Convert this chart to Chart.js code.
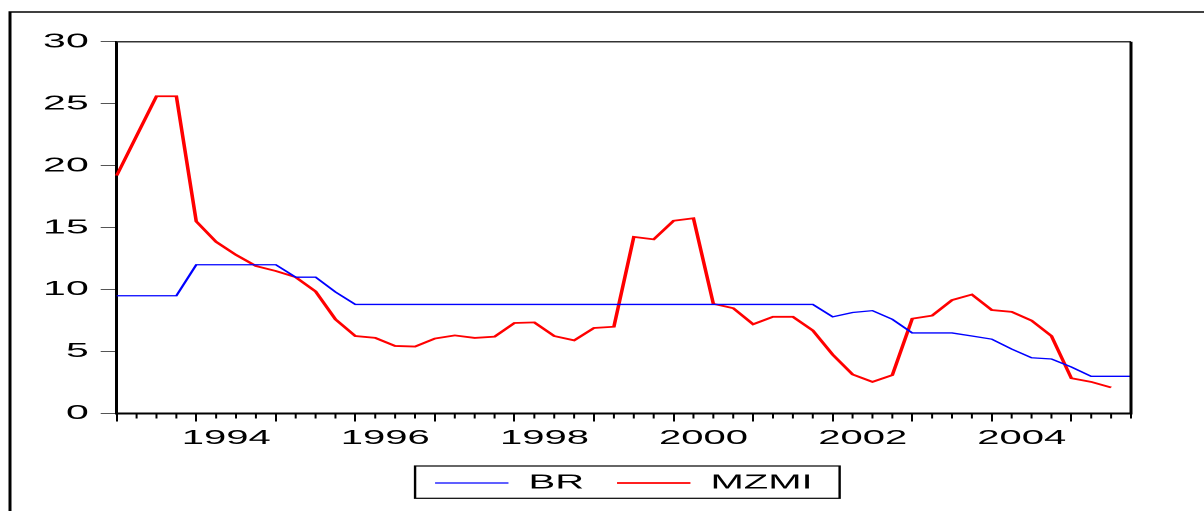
<!DOCTYPE html>
<html>
<head>
<meta charset="utf-8">
<script src="https://cdn.jsdelivr.net/npm/chart.js@4"></script>
<style>
  html, body { margin: 0; padding: 0; background: #fff; overflow: hidden; }
  /* the original graph is a horizontally stretched export, so draw at half width and stretch */
  #wrap { width: 602px; height: 511px; transform: scaleX(2); transform-origin: 0 0; }
</style>
</head>
<body>
<div id="wrap"><canvas id="chart" width="602" height="511"></canvas></div>
<script>
const quarters = [
  '1993Q1', '1993Q2', '1993Q3', '1993Q4',
  '1994Q1', '1994Q2', '1994Q3', '1994Q4',
  '1995Q1', '1995Q2', '1995Q3', '1995Q4',
  '1996Q1', '1996Q2', '1996Q3', '1996Q4',
  '1997Q1', '1997Q2', '1997Q3', '1997Q4',
  '1998Q1', '1998Q2', '1998Q3', '1998Q4',
  '1999Q1', '1999Q2', '1999Q3', '1999Q4',
  '2000Q1', '2000Q2', '2000Q3', '2000Q4',
  '2001Q1', '2001Q2', '2001Q3', '2001Q4',
  '2002Q1', '2002Q2', '2002Q3', '2002Q4',
  '2003Q1', '2003Q2', '2003Q3', '2003Q4',
  '2004Q1', '2004Q2', '2004Q3', '2004Q4',
  '2005Q1', '2005Q2', '2005Q3', '2005Q4'
];

const br = [
  9.5, 9.5, 9.5, 9.5,
  12, 12, 12, 12,
  12, 11, 11, 9.8,
  8.8, 8.8, 8.8, 8.8,
  8.8, 8.8, 8.8, 8.8,
  8.8, 8.8, 8.8, 8.8,
  8.8, 8.8, 8.8, 8.8,
  8.8, 8.8, 8.8, 8.8,
  8.8, 8.8, 8.8, 8.8,
  7.8, 8.15, 8.3, 7.6,
  6.5, 6.5, 6.5, 6.25,
  6.0, 5.2, 4.5, 4.4,
  3.75, 3.0, 3.0, 3.0
];

const mzmi = [
  19.2, 22.4, 25.6, 25.6,
  15.5, 13.85, 12.8, 11.9,
  11.5, 11.0, 9.85, 7.6,
  6.25, 6.1, 5.45, 5.4,
  6.05, 6.3, 6.1, 6.2,
  7.3, 7.35, 6.25, 5.9,
  6.9, 7.0, 14.25, 14.05,
  15.55, 15.75, 8.85, 8.5,
  7.2, 7.8, 7.8, 6.7,
  4.75, 3.15, 2.55, 3.1,
  7.65, 7.9, 9.15, 9.6,
  8.35, 8.2, 7.5, 6.25,
  2.85, 2.55, 2.1, null
];

const yearLabels = ['1994', '1996', '1998', '2000', '2002', '2004'];
const yTicks = [0, 5, 10, 15, 20, 25, 30];

const FONT = "'Liberation Sans', Arial, Helvetica, sans-serif";
const isYearStart = i => quarters[i].endsWith('Q1');

// outer frame, top/right plot border, minor quarter ticks and the legend box
const framePlugin = {
  id: 'frame',
  afterDraw(chart) {
    const ctx = chart.ctx;
    const area = chart.chartArea;
    const xs = chart.scales.x;
    ctx.save();

    ctx.strokeStyle = '#000';
    ctx.lineWidth = 1.5;
    ctx.beginPath();
    ctx.moveTo(5, chart.height);
    ctx.lineTo(5, 12);
    ctx.lineTo(chart.width, 12);
    ctx.stroke();

    ctx.strokeStyle = '#333';
    ctx.lineWidth = 1.5;
    ctx.beginPath();
    ctx.moveTo(area.left, area.top);
    ctx.lineTo(area.right, area.top);
    ctx.stroke();

    ctx.strokeStyle = '#000';
    ctx.beginPath();
    ctx.moveTo(area.right, area.top);
    ctx.lineTo(area.right, area.bottom + 1);
    ctx.stroke();

    ctx.lineWidth = 1;
    xs.ticks.forEach((t, i) => {
      if (isYearStart(i)) return;
      const px = xs.getPixelForTick(i);
      ctx.beginPath();
      ctx.moveTo(px, xs.top);
      ctx.lineTo(px, xs.top + 5);
      ctx.stroke();
    });

    const lg = chart.legend;
    const pad = lg.options.labels.padding;
    const start = (lg.left + pad + lg.right - lg.lineWidths[0]) / 2;
    const rowTop = lg.top + pad;
    ctx.lineWidth = 1.2;
    ctx.strokeRect(start - 10, rowTop - 7, lg.lineWidths[0] - pad + 23.5, 32.3);

    ctx.restore();
  }
};

new Chart(document.getElementById('chart'), {
  type: 'line',
  data: {
    labels: quarters,
    datasets: [
      {
        label: 'BR',
        data: br,
        borderColor: '#0000ff',
        backgroundColor: '#0000ff',
        borderWidth: 1.3,
        pointRadius: 0,
        tension: 0,
        fill: false
      },
      {
        label: 'MZMI',
        data: mzmi,
        borderColor: '#ff0000',
        backgroundColor: '#ff0000',
        borderWidth: 1.8,
        pointRadius: 0,
        tension: 0,
        fill: false
      }
    ]
  },
  options: {
    responsive: false,
    animation: false,
    devicePixelRatio: 2,
    layout: { padding: { top: 41.7, left: 0, right: 36.5, bottom: 8 } },
    plugins: {
      tooltip: { enabled: false },
      legend: {
        position: 'bottom',
        fullSize: false,
        labels: {
          usePointStyle: true,
          pointStyle: 'line',
          pointStyleWidth: 36.7,
          padding: 16.5,
          color: '#000',
          font: { family: FONT, size: 20 }
        }
      }
    },
    scales: {
      x: {
        type: 'category',
        offset: false,
        grid: {
          drawOnChartArea: false,
          drawTicks: true,
          tickLength: 8,
          lineWidth: 1,
          tickColor: c => isYearStart(c.index) ? '#000' : 'rgba(0,0,0,0)'
        },
        border: { display: true, color: '#000', width: 2 },
        ticks: {
          autoSkip: false,
          maxRotation: 0,
          minRotation: 0,
          labelOffset: 15,
          padding: 5,
          color: '#000',
          font: { family: FONT, size: 20 },
          callback: (v, i) => {
            const year = quarters[i].slice(0, 4);
            return isYearStart(i) && yearLabels.includes(year) ? year : '';
          }
        },
        afterFit: s => { s.height = 43; }
      },
      y: {
        min: 0,
        max: 30,
        afterBuildTicks: s => { s.ticks = yTicks.map(v => ({ value: v })); },
        grid: {
          drawOnChartArea: false,
          drawTicks: true,
          tickLength: 8,
          lineWidth: 1,
          tickColor: '#555'
        },
        border: { display: true, color: '#000', width: 1.5 },
        ticks: {
          padding: 6,
          color: '#000',
          font: { family: FONT, size: 20.5 }
        },
        afterFit: s => { s.width = 58.35; }
      }
    }
  },
  plugins: [framePlugin]
});
</script>
</body>
</html>
